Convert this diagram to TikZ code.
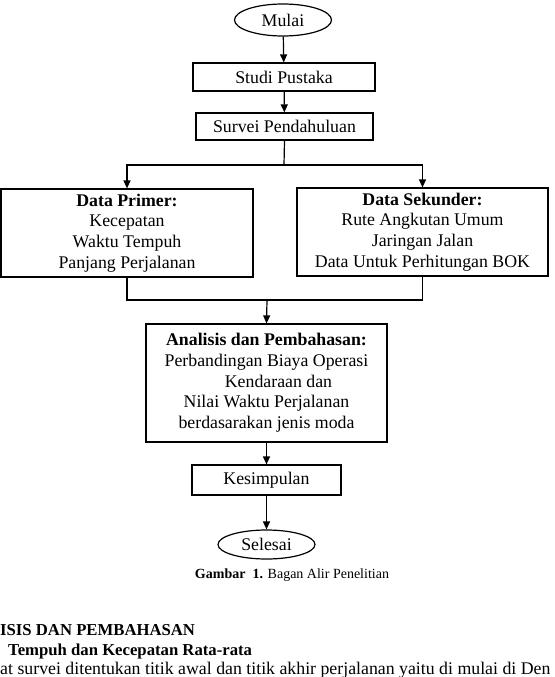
\documentclass[tikz,border=0pt]{standalone}
\usepackage{fontspec}
\setmainfont{Liberation Serif}
\usetikzlibrary{shapes.geometric,arrows.meta}

\begin{document}
\begin{tikzpicture}[x=1pt,y=-1pt,
    every node/.style={font=\fontsize{17.8}{20.7}\selectfont, inner sep=0pt, align=center},
    stepbox/.style={draw, line width=1.2pt, rectangle},
    terminal/.style={draw, line width=1.2pt, ellipse},
    flow/.style={line width=1.2pt, -{Triangle[length=8pt,width=7pt]}},
    link/.style={line width=1.2pt}]
      \useasboundingbox (0,0) rectangle (554,677);
      % start, steps and end
      \node[terminal, minimum width=97pt, minimum height=32pt] (mulai) at (283,20) {Mulai};
      \node[stepbox, minimum width=182pt, minimum height=28pt] (studi) at (284,77) {Studi Pustaka};
      \node[stepbox, minimum width=177pt, minimum height=27pt] (survei) at (284.5,126.5) {Survei Pendahuluan};
      \node[stepbox, minimum width=252pt, minimum height=88pt] (primer) at (127,233)
        {\textbf{Data Primer:}\\Kecepatan\\Waktu Tempuh\\Panjang Perjalanan};
      \node[stepbox, minimum width=251pt, minimum height=88pt] (sekunder) at (422.5,232)
        {\textbf{Data Sekunder:}\\Rute Angkutan Umum\\Jaringan Jalan\\Data Untuk Perhitungan BOK};
      \node[stepbox, minimum width=241pt, minimum height=118pt] (analisis) at (266.5,383)
        {\textbf{Analisis dan Pembahasan:}\\Perbandingan Biaya Operasi\\\hspace*{24pt}Kendaraan dan\\Nilai Waktu Perjalanan\\berdasarakan jenis moda};
      \node[stepbox, minimum width=149pt, minimum height=30pt] (kesimpulan) at (266.5,480) {Kesimpulan};
      \node[terminal, minimum width=97pt, minimum height=29pt] (selesai) at (266.5,544.5) {Selesai};
      % branch and merge points
      \coordinate (split) at (284,165);
      \coordinate (merge) at (267,300);
      \draw[flow] (mulai) -- (studi);
      \draw[flow] (studi) -- (survei);
      \draw[link] (survei.south) -- (split);
      \draw[flow] (split) -| (primer.north);
      \draw[flow] (split) -| (sekunder.north);
      \draw[link] (primer.south) |- (merge);
      \draw[link] (sekunder.south) |- (merge);
      \draw[flow] (merge) -- (analisis.north);
      \draw[flow] (analisis) -- (kesimpulan);
      \draw[flow] (kesimpulan) -- (selesai);
      % caption and page text
      \node[font=\fontsize{14}{16}\selectfont] (caption) at (292,575) {\textbf{Gambar\ \ 1.} Bagan Alir Penelitian};
      \node[anchor=base west, font=\bfseries\fontsize{16.7}{20}\selectfont] (bab) at (0,635) {ISIS DAN PEMBAHASAN};
      \node[anchor=base west, font=\bfseries\fontsize{16.7}{20}\selectfont] (subbab) at (8,655) {Tempuh dan Kecepatan Rata-rata};
      \node[anchor=base west, font=\fontsize{17.8}{20}\selectfont] (isi) at (0,674) {at survei ditentukan titik awal dan titik akhir perjalanan yaitu di mulai di Den};
    \end{tikzpicture}
\end{document}
